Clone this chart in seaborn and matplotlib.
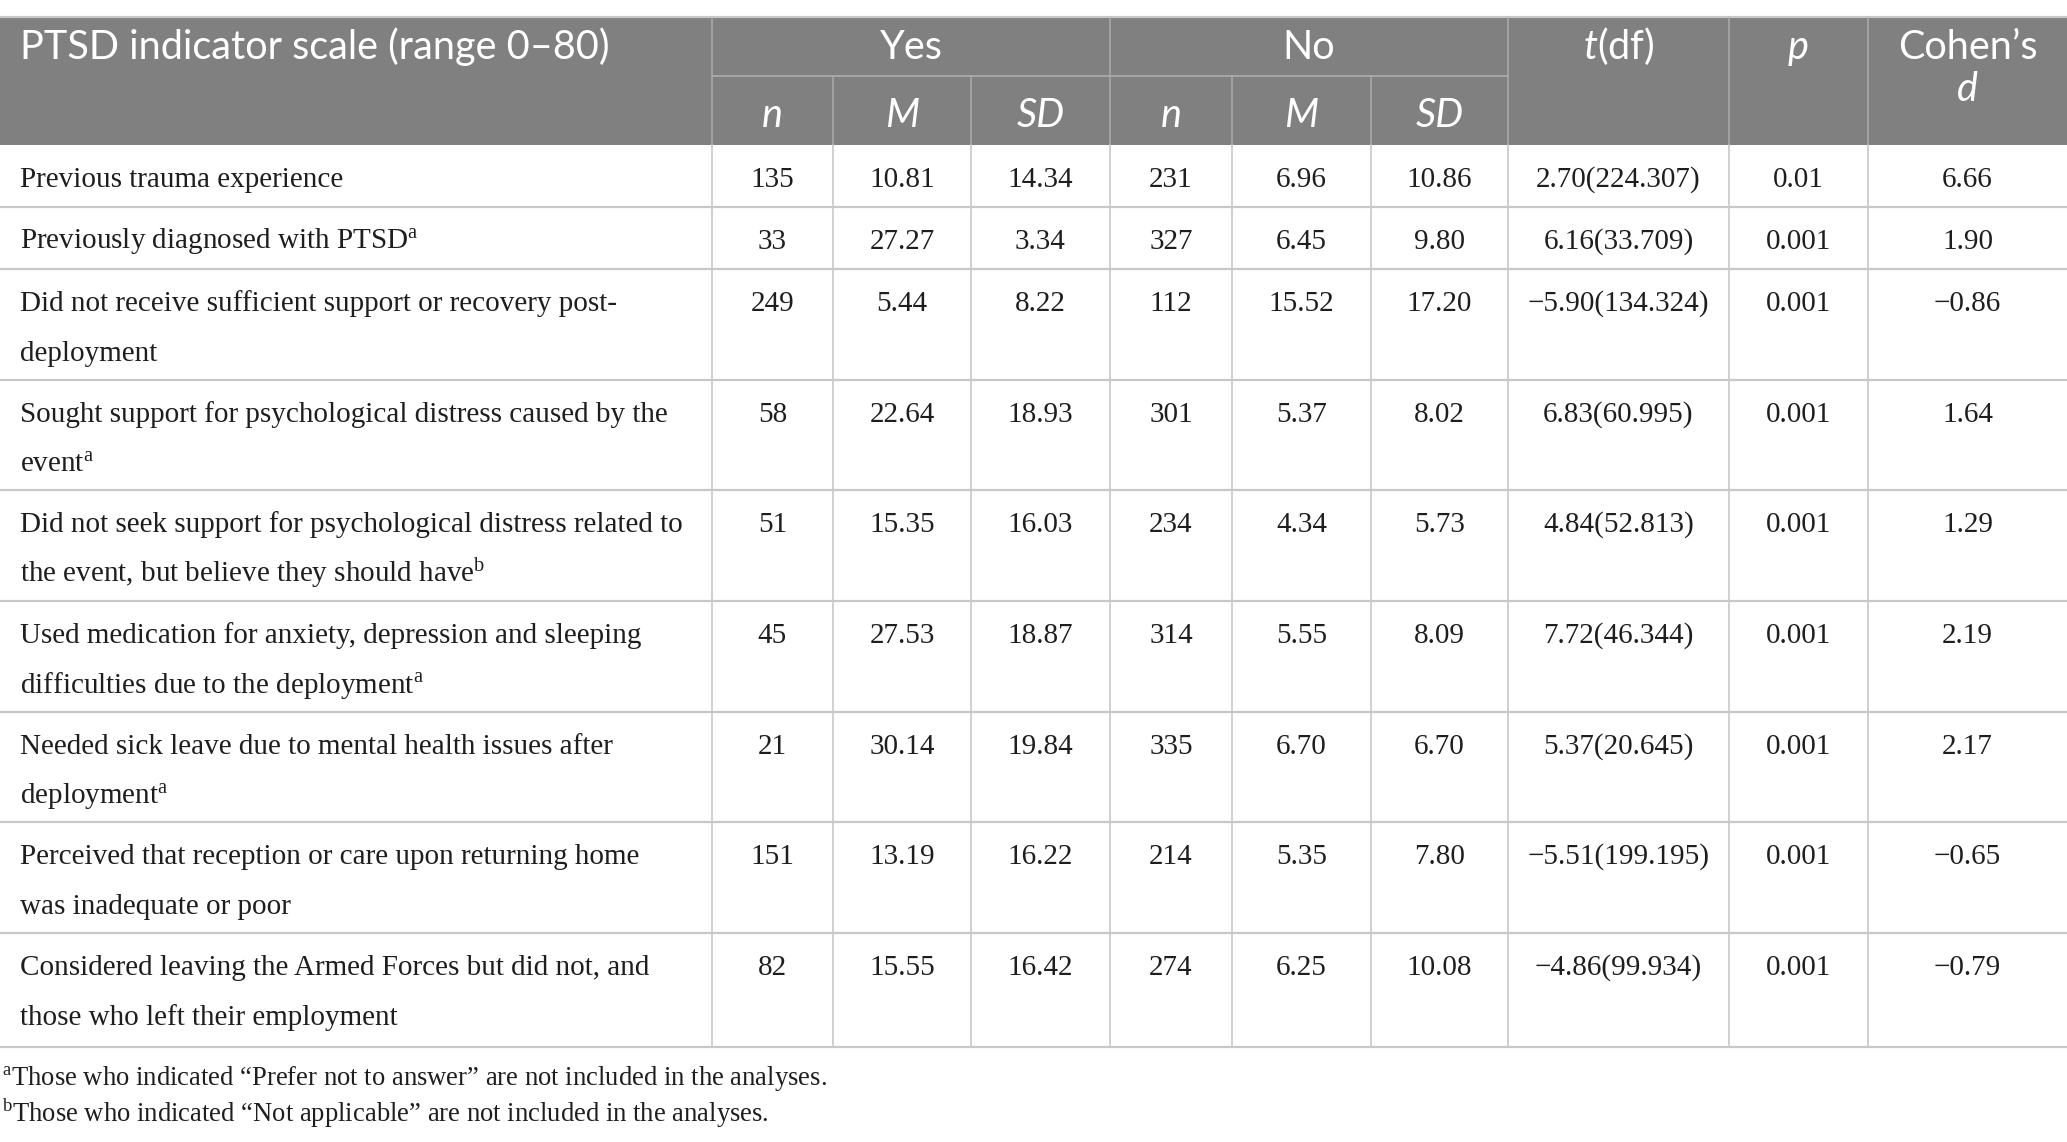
import matplotlib
matplotlib.use("Agg")
import matplotlib.pyplot as plt
import seaborn as sns

# table content
row_labels = [
    "Previous trauma experience",
    "Previously diagnosed with PTSD$^{\\mathrm{a}}$",
    "Did not receive sufficient support or recovery post-\ndeployment",
    "Sought support for psychological distress caused by the\nevent$^{\\mathrm{a}}$",
    "Did not seek support for psychological distress related to\nthe event, but believe they should have$^{\\mathrm{b}}$",
    "Used medication for anxiety, depression and sleeping\ndifficulties due to the deployment$^{\\mathrm{a}}$",
    "Needed sick leave due to mental health issues after\ndeployment$^{\\mathrm{a}}$",
    "Perceived that reception or care upon returning home\nwas inadequate or poor",
    "Considered leaving the Armed Forces but did not, and\nthose who left their employment",
]
yes_n = ["135", "33", "249", "58", "51", "45", "21", "151", "82"]
yes_m = ["10.81", "27.27", "5.44", "22.64", "15.35", "27.53", "30.14", "13.19", "15.55"]
yes_sd = ["14.34", "3.34", "8.22", "18.93", "16.03", "18.87", "19.84", "16.22", "16.42"]
no_n = ["231", "327", "112", "301", "234", "314", "335", "214", "274"]
no_m = ["6.96", "6.45", "15.52", "5.37", "4.34", "5.55", "6.70", "5.35", "6.25"]
no_sd = ["10.86", "9.80", "17.20", "8.02", "5.73", "8.09", "6.70", "7.80", "10.08"]
t_df = ["2.70(224.307)", "6.16(33.709)", "\u22125.90(134.324)", "6.83(60.995)",
        "4.84(52.813)", "7.72(46.344)", "5.37(20.645)", "\u22125.51(199.195)",
        "\u22124.86(99.934)"]
p_vals = ["0.01", "0.001", "0.001", "0.001", "0.001", "0.001", "0.001", "0.001", "0.001"]
d_vals = ["6.66", "1.90", "\u22120.86", "1.64", "1.29", "2.19", "2.17", "\u22120.65", "\u22120.79"]
footnotes = [
    "$^{\\mathrm{a}}$Those who indicated \u201cPrefer not to answer\u201d are not included in the analyses.",
    "$^{\\mathrm{b}}$Those who indicated \u201cNot applicable\u201d are not included in the analyses.",
]

sns.set_style("white")
plt.rcParams["font.family"] = ["Liberation Serif", "DejaVu Serif"]
plt.rcParams["mathtext.fontset"] = "custom"
plt.rcParams["mathtext.rm"] = "Liberation Serif"
plt.rcParams["mathtext.it"] = "Lato:italic"

W, H = 2067, 1142
col_x = [0, 712, 833, 971, 1110, 1232, 1371, 1508, 1729, 1868, 2067]
row_y = [145, 207, 269, 380, 490, 601, 712, 822, 933, 1047]
head_top, head_mid = 18, 76

header_bg = "#808080"
grid_col = "#c8c8c8"
head_line = "#a8a8a8"
txt_col = "#1e1e1e"
body_size = 21
head_size = 28.5
head_font = "Lato"

fig = plt.figure(figsize=(W / 100, H / 100), dpi=100)
ax = fig.add_axes([0, 0, 1, 1])
ax.set_xlim(0, W)
ax.set_ylim(H, 0)
ax.axis("off")

# header background and top rule
ax.fill_between([0, W], head_top, row_y[0], color=header_bg, lw=0)
ax.plot([0, W], [head_top - 1, head_top - 1], color=grid_col, lw=1.6)

# header lines
for x in [712, 1110, 1508, 1729, 1868]:
    ax.plot([x, x], [head_top, row_y[0]], color=head_line, lw=1.2)
for x in [833, 971, 1232, 1371]:
    ax.plot([x, x], [head_mid, row_y[0]], color=head_line, lw=1.2)
ax.plot([712, 1508], [head_mid, head_mid], color=head_line, lw=1.4)


def cx(i):
    return (col_x[i] + col_x[i + 1]) / 2


def head_text(x, y, s, ha="center", italic=False):
    ax.text(x, y, s, color="white", fontsize=head_size, family=head_font,
            style="italic" if italic else "normal", ha=ha, va="baseline")


# header text (baselines)
hb1, hb2 = 59, 127
head_text(20, hb1, "PTSD indicator scale (range 0\u201380)", ha="left")
head_text((col_x[1] + col_x[4]) / 2, hb1, "Yes")
head_text((col_x[4] + col_x[7]) / 2, hb1, "No")
for i, lab in zip(range(1, 7), ["n", "M", "SD", "n", "M", "SD"]):
    head_text(cx(i), hb2, lab, italic=True)
head_text(cx(7), hb1, "$t$(df)")
head_text(cx(8), hb1, "p", italic=True)
head_text(cx(9), hb1, "Cohen\u2019s")
head_text(cx(9), 101, "d", italic=True)

# body grid
for y in row_y[1:]:
    ax.plot([0, W], [y, y], color=grid_col, lw=1.6)
for x in col_x[1:-1]:
    ax.plot([x, x], [row_y[0], row_y[-1]], color=grid_col, lw=1.2)

# body text
columns = [yes_n, yes_m, yes_sd, no_n, no_m, no_sd, t_df, p_vals, d_vals]
for r, label in enumerate(row_labels):
    base = row_y[r] + 42
    for k, line in enumerate(label.split("\n")):
        ax.text(20, base + k * 50, line, fontsize=body_size, ha="left",
                va="baseline", color=txt_col)
    for c, vals in enumerate(columns):
        ax.text(cx(c + 1), base, vals[r], fontsize=body_size, ha="center",
                va="baseline", color=txt_col)

# footnotes
for k, note in enumerate(footnotes):
    ax.text(2, 1085 + k * 37, note, fontsize=19.2, ha="left", va="baseline",
            color=txt_col)

fig.savefig("out.png", dpi=100)
